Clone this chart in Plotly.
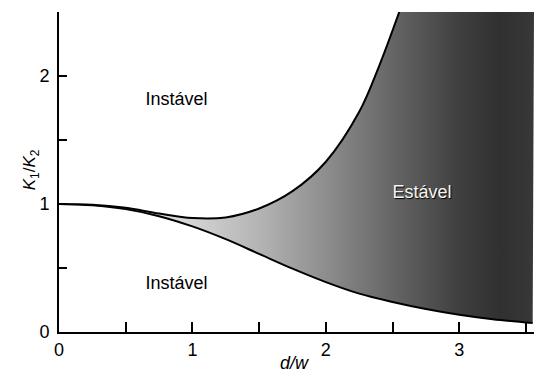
import plotly.graph_objects as go

# Stability boundaries of K1/K2 against d/w
D_UPPER = [0.0, 0.25, 0.5, 0.75, 1.0, 1.25, 1.5, 1.75, 2.0, 2.25, 2.4, 2.55]
K_UPPER = [1.0, 0.995, 0.97, 0.925, 0.89, 0.895, 0.965, 1.10, 1.33, 1.72, 2.08, 2.5]

D_LOWER = [0.0, 0.25, 0.5, 0.75, 1.0, 1.25, 1.5, 1.75, 2.0, 2.25, 2.5, 2.75, 3.0, 3.25, 3.55]
K_LOWER = [1.0, 0.99, 0.96, 0.905, 0.825, 0.725, 0.61, 0.495, 0.39, 0.30, 0.235, 0.18, 0.135, 0.10, 0.07]

REGION_LABELS = ["Instável", "Instável", "Estável"]
REGION_X = [0.88, 0.88, 2.72]
REGION_Y = [1.81, 0.375, 1.08]

X_MAX = 3.56
Y_MAX = 2.5

FONT = "Liberation Sans, Arial, Helvetica, sans-serif"

fig = go.Figure()

# shaded band: everything above the lower boundary gets the gradient ...
fig.add_trace(go.Scatter(x=[0, X_MAX], y=[Y_MAX, Y_MAX], mode="lines",
                         line=dict(width=0), hoverinfo="skip", showlegend=False))
fig.add_trace(go.Scatter(
    x=D_LOWER, y=K_LOWER, mode="lines",
    line=dict(color="black", width=2, shape="spline"),
    fill="tonexty",
    fillgradient=dict(
        type="horizontal", start=0, stop=X_MAX,
        colorscale=[[0.0, "#f2f2f2"], [0.25, "#dadada"], [0.42, "#b4b4b4"],
                    [0.56, "#8e8e8e"], [0.70, "#666666"], [0.84, "#404040"],
                    [0.93, "#303030"], [1.0, "#383838"]],
    ),
    hoverinfo="skip", showlegend=False))

# ... and the unstable zone above the upper boundary is painted back to white
fig.add_trace(go.Scatter(x=[0, X_MAX], y=[Y_MAX, Y_MAX], mode="lines",
                         line=dict(width=0), hoverinfo="skip", showlegend=False))
fig.add_trace(go.Scatter(
    x=D_UPPER, y=K_UPPER, mode="lines",
    line=dict(color="black", width=2, shape="spline"),
    fill="tonexty", fillcolor="white",
    hoverinfo="skip", showlegend=False))

# region names
fig.add_trace(go.Scatter(
    x=REGION_X[:2], y=REGION_Y[:2], mode="text", text=REGION_LABELS[:2],
    textfont=dict(family=FONT, size=18, color="black"),
    hoverinfo="skip", showlegend=False))
fig.add_trace(go.Scatter(
    x=REGION_X[2:], y=REGION_Y[2:], mode="text", text=REGION_LABELS[2:],
    textfont=dict(family=FONT, size=18, color="#f4f4f4",
                  shadow="1px 1px 1px #000000"),
    hoverinfo="skip", showlegend=False))

axis_common = dict(
    showline=True, linecolor="black", linewidth=2,
    ticks="inside", tickcolor="black", tickwidth=1.5,
    showgrid=False, zeroline=False,
    tickmode="linear", tick0=0, dtick=1,
    tickfont=dict(family=FONT, size=18, color="black"),
)

fig.update_xaxes(range=[0, X_MAX], ticklen=10,
                 minor=dict(ticks="inside", dtick=0.5, tick0=0, ticklen=10,
                            tickwidth=1.5, tickcolor="black", showgrid=False),
                 **axis_common)
fig.update_yaxes(range=[0, Y_MAX], ticklen=8, ticklabelstandoff=4,
                 minor=dict(ticks="inside", dtick=0.5, tick0=0, ticklen=8,
                            tickwidth=1.5, tickcolor="black", showgrid=False),
                 **axis_common)

fig.update_layout(
    width=534, height=385,
    margin=dict(l=59, r=0, t=12, b=53),
    plot_bgcolor="white", paper_bgcolor="white",
    annotations=[
        dict(text="<i>d/w</i>", xref="paper", yref="paper", x=0.495, y=-0.134,
             showarrow=False, font=dict(family=FONT, size=18, color="black")),
        dict(text="<i>K</i><sub>1</sub>/<i>K</i><sub>2</sub>", xref="paper",
             yref="paper", x=-0.086, y=0.506, textangle=-90, showarrow=False,
             font=dict(family=FONT, size=17, color="black")),
    ],
)

fig.write_html("out.html")
